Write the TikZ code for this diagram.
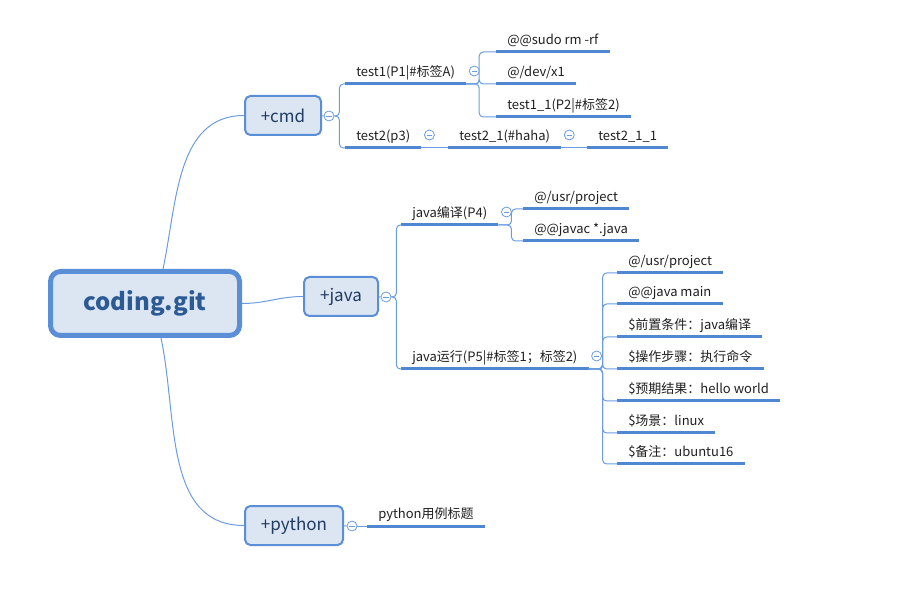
\documentclass[tikz,border=0pt]{standalone}
\usepackage{fontspec}
\setmainfont{Noto Sans CJK SC}
\usetikzlibrary{calc}
\definecolor{boxline}{HTML}{5A8ED6}
\definecolor{boxfill}{HTML}{DCE6F2}
\definecolor{boxtext}{HTML}{1F3B63}
\definecolor{roottext}{HTML}{2C5A94}
\definecolor{ulblue}{HTML}{5087D2}
\definecolor{linkblue}{HTML}{6B9CE0}

\begin{document}
\begin{tikzpicture}[x=0.75pt,y=-0.75pt,
	root/.style={draw=boxline,fill=boxfill,line width=3.75pt,rounded corners=7.5pt,minimum width=141.75pt,minimum height=48pt,text=roottext,font=\fontsize{18}{20}\selectfont\bfseries},
	box/.style={draw=boxline,fill=boxfill,line width=1.5pt,rounded corners=4pt,minimum height=29.25pt,inner sep=0pt,text=boxtext,font=\fontsize{12.75}{14}\selectfont},
	topic/.style={anchor=south west,inner xsep=8.25pt,inner ysep=3pt,text height=8pt,text depth=2.5pt,text=black!88,font=\fontsize{9.75}{12}\selectfont},
	uline/.style={draw=ulblue,line width=2.25pt},
	link/.style={draw=linkblue,line width=0.75pt},
	branch/.style={link,rounded corners=3pt},
	fold/.style={circle,draw=linkblue,fill=white,minimum size=7.5pt,inner sep=0pt,line width=0.6pt,
		path picture={\draw[linkblue,line width=0.6pt] ([xshift=-2pt]path picture bounding box.center) -- ([xshift=2pt]path picture bounding box.center);}}]
	\useasboundingbox (0,0) rectangle (914,616);

	% main topics
	\node[root] (root) at (145,303.5) {coding.git};
	\node[box,minimum width=57pt] (cmd) at (283,115.5) {+cmd};
	\node[box,minimum width=55.5pt] (java) at (341,296.5) {+java};
	\node[box,minimum width=73.5pt] (python) at (294,525.5) {+python};
	\draw[link] ($(root.north)+(18,0)$) to[out=78,in=180] (cmd.west);
	\draw[link] (root.east) to[out=0,in=180] (java.west);
	\draw[link] ($(root.south)+(16,0)$) to[out=-78,in=180] (python.west);
	\node[fold] (cmdf) at (329,116) {};
	\node[fold] (javaf) at (386,297) {};
	\node[fold] (pyf) at (352,526) {};
	\draw[link] (cmd) -- (cmdf);
	\draw[link] (java) -- (javaf);
	\draw[link] (python) -- (pyf);

	% cmd
	\node[topic] (t1) at (345,84) {test1(P1|\#标签A)};
	\node[topic] (t11) at (496,52) {@@sudo rm -rf};
	\node[topic] (t12) at (496,84) {@/dev/x1};
	\node[topic] (t13) at (496,117) {test1\_1(P2|\#标签2)};
	\node[topic] (t2) at (345,148) {test2(p3)};
	\node[topic] (t21) at (448,148) {test2\_1(\#haha)};
	\node[topic] (t211) at (587,148) {test2\_1\_1};

	% java
	\node[topic] (j1) at (401,225) {java编译(P4)};
	\node[topic] (j11) at (523,209) {@/usr/project};
	\node[topic] (j12) at (523,241) {@@javac *.java};
	\node[topic] (j2) at (401,369) {java运行(P5|\#标签1；标签2)};
	\node[topic] (j21) at (617,273) {@/usr/project};
	\node[topic] (j22) at (617,304) {@@java main};
	\node[topic] (j23) at (617,337) {\$前置条件：java编译};
	\node[topic] (j24) at (617,369) {\$操作步骤：执行命令};
	\node[topic] (j25) at (617,401) {\$预期结果：hello world};
	\node[topic] (j26) at (617,433) {\$场景：linux};
	\node[topic] (j27) at (617,464) {\$备注：ubuntu16};

	% python
	\node[topic] (p1) at (367,526) {python用例标题};

	\foreach \n in {t1,t11,t12,t13,t2,t21,t211,j1,j11,j12,j2,j21,j22,j23,j24,j25,j26,j27,p1}
		\draw[uline] (\n.south west) -- (\n.south east);

	\foreach \c in {t1,t2}
		\draw[branch] (cmdf.east) -- ++(5,0) |- (\c.south west);
	\foreach \c in {t11,t12,t13}
		\draw[branch] (t1.south east) -- ++(13,0) |- (\c.south west);
	\draw[link] (t2.south east) -- (t21.south west);
	\draw[link] (t21.south east) -- (t211.south west);
	\foreach \c in {j1,j2}
		\draw[branch] (javaf.east) -- ++(5,0) |- (\c.south west);
	\foreach \c in {j11,j12}
		\draw[branch] (j1.south east) -- ++(13,0) |- (\c.south west);
	\foreach \c in {j21,j22,j23,j24,j25,j26,j27}
		\draw[branch] (j2.south east) -- ++(14,0) |- (\c.south west);
	\draw[link] (pyf.east) -- (p1.south west);

	% fold marks
	\foreach \n in {t1,t2,t21,j1,j2}
		\node[fold] at ($(\n.south east)+(8,-13)$) {};
\end{tikzpicture}
\end{document}
